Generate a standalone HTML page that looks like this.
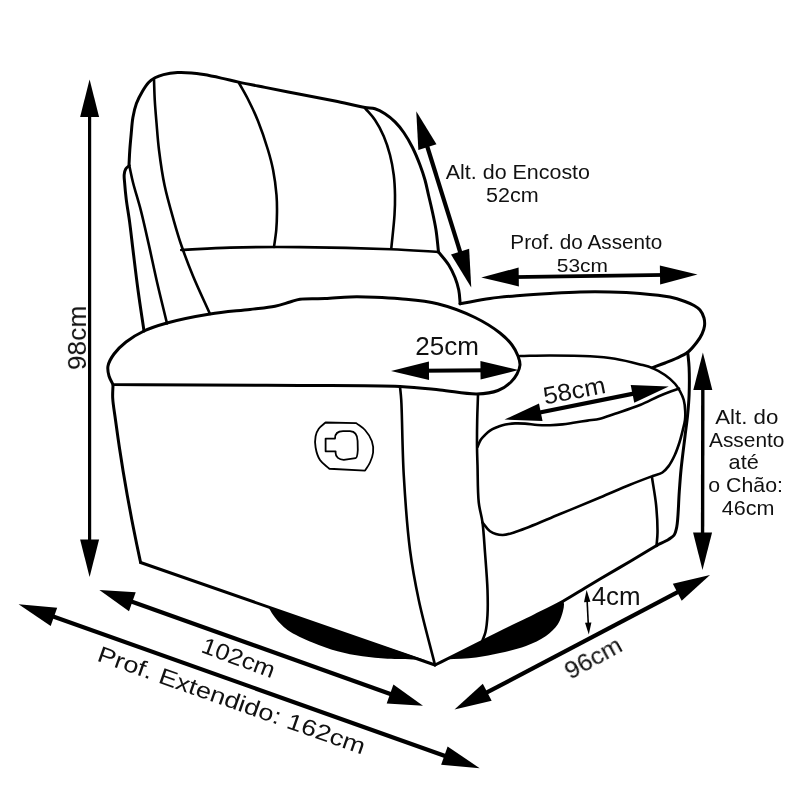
<!DOCTYPE html>
<html><head><meta charset="utf-8"><style>
html,body{margin:0;padding:0;background:#fff;width:800px;height:800px;overflow:hidden}
svg{display:block}
text{font-family:"Liberation Sans", sans-serif;fill:#111}
.tx{will-change:transform}
</style></head><body>
<svg width="800" height="800" viewBox="0 0 800 800">
<rect width="800" height="800" fill="#fff"/>
<g fill="none" stroke="#000" stroke-linecap="round" stroke-linejoin="round">
<path d="M129.00,165.00C129.27,160.00 129.45,155.00 129.80,150.00C130.15,145.00 130.61,140.19 131.10,135.00C131.63,129.39 131.94,122.98 132.90,117.50C133.77,112.54 134.77,107.93 136.40,103.50C137.99,99.19 140.32,94.92 142.50,91.25C144.42,88.01 146.33,84.83 148.60,82.50C150.56,80.49 152.62,79.09 155.00,77.80C157.55,76.42 160.26,75.44 163.50,74.60C167.54,73.55 172.82,72.78 177.50,72.50C182.15,72.22 187.00,72.52 191.50,72.90C195.73,73.25 199.32,73.85 203.75,74.60C209.08,75.50 215.43,76.84 221.25,78.10C227.09,79.36 232.32,80.76 238.75,82.15C246.60,83.84 255.62,85.55 265.00,87.40C275.83,89.53 288.33,91.93 300.00,94.20C311.67,96.47 323.79,98.72 335.00,101.00C345.40,103.12 357.66,106.12 365.00,107.40C369.21,108.13 371.75,107.75 375.00,108.75C378.42,109.80 381.78,111.67 385.00,113.75C388.46,115.99 391.92,118.84 395.00,121.90C398.18,125.06 400.98,128.54 403.75,132.50C406.86,136.96 409.84,142.22 412.50,147.50C415.28,153.03 417.85,159.35 420.00,165.00C421.96,170.15 423.58,174.97 425.00,180.00C426.40,184.97 427.33,190.00 428.50,195.00C429.67,200.00 430.84,204.63 432.00,210.00C433.34,216.18 434.93,223.15 436.00,230.00C437.12,237.14 437.67,244.67 438.50,252.00" stroke-width="3.0"/>
<path d="M438.50,252.00C441.92,256.33 445.93,260.56 448.75,265.00C451.34,269.08 453.32,273.26 455.00,277.50C456.63,281.60 457.88,285.69 458.75,290.00C459.64,294.43 459.72,299.17 460.20,303.75" stroke-width="3.0"/>
<path d="M460.00,303.75C470.00,302.00 479.97,299.88 490.00,298.50C499.97,297.13 509.99,296.35 520.00,295.50C529.99,294.65 540.00,294.00 550.00,293.40C560.00,292.80 570.00,292.15 580.00,291.90C590.00,291.65 600.00,291.65 610.00,291.90C620.00,292.15 630.01,292.55 640.00,293.40C650.01,294.25 661.78,295.29 670.00,297.00C675.92,298.23 680.68,299.90 685.00,301.50C688.43,302.77 691.38,303.96 694.00,305.50C696.29,306.84 698.37,308.05 700.00,310.00C701.78,312.13 703.26,315.26 704.00,318.00C704.70,320.60 704.82,323.36 704.50,326.00C704.17,328.70 703.19,331.41 702.00,334.00C700.74,336.75 699.05,339.28 697.00,342.00C694.55,345.25 691.48,349.26 688.00,352.00C684.49,354.76 679.96,356.62 676.00,358.50C672.30,360.25 668.83,361.51 665.00,363.00C660.86,364.61 656.33,366.20 652.00,367.80" stroke-width="3.0"/>
<path d="M154.00,79.50C154.25,86.33 154.35,92.99 154.75,100.00C155.17,107.39 155.83,114.83 156.50,122.75C157.23,131.43 157.80,140.33 159.00,150.00C160.38,161.10 162.12,173.79 164.60,185.60C167.11,197.56 170.97,210.64 174.00,221.30C176.48,230.03 178.38,236.62 181.25,245.00C184.57,254.69 188.55,265.21 193.00,276.00C197.99,288.09 204.33,301.33 210.00,314.00" stroke-width="2.6"/>
<path d="M238.75,82.50C241.67,87.75 244.56,92.46 247.50,98.25C250.97,105.08 254.73,112.87 258.00,121.00C261.62,130.00 265.36,141.18 268.00,150.00C270.17,157.24 271.72,162.92 273.10,170.00C274.63,177.83 275.88,187.45 276.50,195.00C277.01,201.20 277.04,206.25 277.00,212.00C276.96,217.91 276.76,224.10 276.25,230.00C275.75,235.76 274.75,241.33 274.00,247.00" stroke-width="2.6"/>
<path d="M365.00,108.10C368.33,112.07 371.98,115.55 375.00,120.00C378.29,124.85 381.28,130.53 383.75,136.25C386.31,142.17 388.34,148.59 390.00,155.00C391.69,161.50 392.92,168.31 393.75,175.00C394.58,181.64 394.88,188.33 395.00,195.00C395.12,201.66 394.96,207.48 394.50,215.00C393.91,224.80 392.33,237.50 391.25,248.75" stroke-width="2.6"/>
<path d="M181.25,250.00C197.50,249.20 212.28,248.10 230.00,247.60C251.22,247.00 275.14,246.89 300.00,247.10C328.35,247.34 365.56,248.27 391.00,249.30C409.39,250.04 422.67,251.10 438.50,252.00" stroke-width="2.6"/>
<path d="M129.30,165.60C128.10,166.73 126.55,167.58 125.70,169.00C124.79,170.53 124.42,172.55 124.20,174.60C123.95,176.99 124.37,179.38 124.60,182.50C124.94,187.08 125.51,193.37 126.25,199.40C127.11,206.37 128.53,213.98 129.60,221.90C130.79,230.74 131.75,239.81 133.00,250.00C134.50,262.16 136.18,276.59 138.00,290.00C139.84,303.59 142.00,317.33 144.00,331.00" stroke-width="3.0"/>
<path d="M129.60,167.00C130.73,172.17 131.52,176.60 133.00,182.50C135.00,190.51 138.38,200.77 140.90,210.60C143.65,221.32 146.14,232.83 148.75,244.40C151.50,256.59 154.05,269.18 157.00,282.00C160.11,295.48 163.67,309.60 167.00,323.40" stroke-width="2.6"/>
<path d="M113.00,384.50C111.67,381.67 109.84,379.02 109.00,376.00C108.13,372.87 107.38,369.39 108.00,366.00C108.72,362.08 111.27,357.79 114.00,354.00C117.07,349.74 121.35,345.66 126.00,342.00C131.19,337.92 137.45,334.10 144.00,331.00C151.03,327.67 158.05,325.48 167.00,323.00C179.02,319.67 195.87,316.29 210.00,314.00C223.52,311.81 238.23,310.83 250.00,309.40C259.31,308.27 267.77,307.67 275.00,306.20C280.68,305.05 285.51,303.26 290.00,302.00C293.67,300.97 295.87,299.82 300.00,299.20C306.41,298.24 316.67,298.98 325.00,298.60C333.34,298.22 341.66,297.13 350.00,296.90C358.33,296.67 366.67,296.89 375.00,297.20C383.34,297.51 390.84,297.86 400.00,298.75C411.25,299.85 425.17,300.71 437.50,303.75C450.17,306.88 464.00,312.14 475.00,317.50C484.44,322.10 493.41,327.78 500.00,333.00C505.01,336.97 508.90,340.86 512.00,345.00C514.66,348.56 516.66,352.42 518.00,356.00C519.15,359.07 520.15,362.02 520.00,365.00C519.84,368.02 518.47,371.20 517.00,374.00C515.49,376.88 513.66,379.51 511.00,382.00C507.69,385.11 503.09,388.51 498.00,390.50C492.04,392.83 485.00,393.77 477.00,394.00C466.42,394.30 452.58,391.21 440.00,390.00C426.93,388.74 416.35,387.38 400.00,386.60C374.19,385.36 333.33,385.77 300.00,385.50C266.67,385.23 232.17,385.17 200.00,385.00C169.99,384.84 142.00,384.67 113.00,384.50" stroke-width="3.0"/>
<path d="M113.00,385.00C112.90,389.33 112.45,393.11 112.70,398.00C113.03,404.39 114.48,412.44 115.50,420.00C116.58,428.07 117.79,436.67 119.03,445.00C120.27,453.34 121.57,461.67 122.93,470.00C124.29,478.34 125.71,486.67 127.20,495.00C128.69,503.34 130.24,511.67 131.85,520.00C133.46,528.34 135.30,537.41 136.87,545.00C138.19,551.36 139.36,556.67 140.60,562.50" stroke-width="3.0"/>
<path d="M140.60,562.50L435.00,665.00" stroke-width="3.0"/>
<path d="M435.00,665.00C441.67,661.67 447.00,659.00 455.00,655.00C467.00,649.00 485.92,639.44 500.00,632.50C512.38,626.40 524.01,620.98 535.00,615.50C544.88,610.58 554.31,606.02 563.00,601.20C570.85,596.84 578.37,591.98 585.00,588.00C590.48,584.71 594.13,582.47 600.00,579.00C608.27,574.11 620.23,567.28 630.00,561.50C639.38,555.95 648.33,550.50 657.50,545.00" stroke-width="3.0"/>
<path d="M687.75,352.40C688.20,357.43 688.84,361.71 689.10,367.50C689.45,375.30 689.42,386.57 689.10,395.00C688.83,402.20 688.27,408.24 687.60,415.00C686.91,421.98 685.95,428.35 685.00,436.25C683.80,446.20 681.99,460.04 681.00,470.00C680.22,477.89 679.91,483.25 679.30,491.25C678.52,501.62 678.28,519.33 676.75,527.00C676.00,530.78 675.52,533.13 674.00,535.25C672.65,537.13 670.72,538.01 668.50,539.40C665.53,541.26 661.17,543.13 657.50,545.00" stroke-width="3.0"/>
<path d="M400.00,386.60C400.42,391.07 400.85,393.71 401.25,400.00C402.19,414.85 402.29,450.02 403.75,475.00C405.21,500.02 407.11,527.58 410.00,550.00C412.37,568.41 415.00,582.31 418.75,600.00C423.06,620.32 429.58,643.33 435.00,665.00" stroke-width="2.6"/>
<path d="M478.00,395.00C477.73,403.33 477.37,411.58 477.20,420.00C477.03,428.58 476.93,438.01 477.00,446.00C477.06,452.83 477.28,457.60 477.50,465.00C477.81,475.40 477.60,491.99 478.75,502.50C479.60,510.24 481.50,515.13 482.50,522.50C483.71,531.46 484.21,541.94 485.00,552.50C485.88,564.30 487.13,578.76 487.50,590.00C487.81,599.17 487.94,607.48 487.50,615.00C487.14,621.22 486.58,627.35 485.50,632.00C484.72,635.37 483.50,637.67 482.50,640.50" stroke-width="2.6"/>
<path d="M520.00,356.00C530.00,355.83 539.28,355.49 550.00,355.50C562.38,355.51 578.24,355.55 590.00,356.25C599.32,356.80 606.71,357.40 615.00,358.75C623.38,360.11 633.12,362.61 640.00,364.40C644.91,365.68 648.42,366.40 652.50,368.10C656.77,369.88 661.20,372.33 665.00,375.00C668.67,377.57 672.38,380.77 675.00,383.75C677.15,386.21 678.56,388.58 680.00,391.25C681.48,393.99 682.89,396.85 683.75,400.00C684.68,403.40 685.01,407.51 685.20,411.00C685.37,414.14 685.37,416.94 685.00,420.00C684.61,423.26 683.65,426.52 682.80,430.00C681.87,433.83 680.88,437.95 679.60,442.00C678.24,446.28 676.70,450.88 674.80,455.00C672.95,459.00 670.72,463.31 668.40,466.40C666.52,468.90 664.85,470.93 662.40,472.50C659.72,474.22 656.64,474.55 652.75,476.00C646.76,478.24 638.08,481.48 630.00,484.75C620.66,488.53 610.73,493.01 600.00,497.50C587.64,502.68 573.54,508.46 560.00,514.00C546.06,519.71 528.15,527.78 517.50,531.25C511.32,533.27 507.26,535.11 502.50,535.00C498.13,534.90 493.39,533.46 490.00,531.25C486.81,529.18 485.00,525.42 482.50,522.50" stroke-width="2.6"/>
<path d="M477.50,446.90C478.53,444.60 479.29,442.03 480.60,440.00C481.83,438.10 483.43,436.57 485.00,435.00C486.57,433.43 488.15,431.84 490.00,430.60C491.89,429.33 494.14,428.39 496.25,427.50C498.31,426.63 500.40,425.89 502.50,425.30C504.56,424.72 506.66,424.32 508.75,424.00C510.82,423.69 512.67,423.49 515.00,423.40C517.94,423.29 521.49,423.37 525.00,423.60C528.94,423.86 533.33,424.73 537.50,425.00C541.66,425.27 545.84,425.35 550.00,425.25C554.17,425.15 558.34,424.86 562.50,424.40C566.68,423.94 570.83,423.13 575.00,422.50C579.17,421.87 583.33,421.23 587.50,420.60C591.67,419.98 595.69,419.78 600.00,418.75C604.82,417.60 609.37,415.67 615.00,413.75C622.28,411.26 632.34,408.12 640.00,405.00C646.77,402.24 653.10,398.70 658.75,396.25C663.31,394.28 667.57,392.64 671.25,391.25C674.13,390.16 676.42,389.42 679.00,388.50" stroke-width="2.6"/>
<path d="M652.00,477.50C653.37,486.67 655.18,495.81 656.10,505.00C657.01,514.14 657.59,524.95 657.50,532.50C657.44,537.79 656.83,541.50 656.50,546.00" stroke-width="2.6"/>
<path d="M325.6,422.5L356.25,423.1C359.17,425.40 362.47,427.15 365.00,430.00C367.76,433.10 370.57,437.34 371.90,441.25C373.13,444.87 373.45,448.90 373.10,452.50C372.76,455.97 371.40,459.42 370.00,462.50C368.67,465.43 366.67,467.90 365.00,470.60L329.4,468.75C326.27,465.83 322.30,463.50 320.00,460.00C317.67,456.44 316.30,451.62 315.60,447.50C314.95,443.71 314.93,439.56 315.60,436.25C316.17,433.43 317.17,430.98 318.75,428.75C320.43,426.36 323.32,424.58 325.60,422.50Z" stroke-width="1.8"/>
<path d="M325.6,438.6L335,438.6C335,433 338,431.2 343,431.2L350,431.2C355,431.5 357.5,435 357.6,441L357.8,450C357.5,455 356.5,458 355.6,458.1L343.75,459.8C339,459.8 335.6,457 335.6,453L335.6,451.3L325.6,451.3Z" stroke-width="1.8"/>
</g>
<g fill="#000">
<path d="M268.75,608.00C270.83,611.17 272.36,614.26 275.00,617.50C278.30,621.55 282.24,626.21 287.50,630.00C294.11,634.76 304.05,638.93 312.50,642.50C320.72,645.98 329.09,648.95 337.50,651.25C345.76,653.51 354.14,655.00 362.50,656.25C370.80,657.49 378.96,658.21 387.50,658.75C396.44,659.32 408.10,659.23 415.00,659.50C419.16,659.66 421.67,659.83 425.00,660.00L268.75,608Z"/>
<path d="M446.00,659.50C456.00,658.83 466.59,658.69 476.00,657.50C484.48,656.43 491.88,654.85 500.00,653.00C508.53,651.06 518.04,649.03 526.00,646.00C533.25,643.24 540.44,640.01 546.00,636.00C550.84,632.51 555.13,628.41 558.00,624.00C560.60,620.00 562.03,614.63 563.00,611.00C563.66,608.50 563.99,606.33 564.00,604.50C564.01,603.15 563.67,602.17 563.50,601.00L535,615.5L500,632.5L446,659.5Z"/>
</g>
<line x1="89.60" y1="109.50" x2="89.60" y2="546.90" stroke="#000" stroke-width="3.2"/>
<path d="M89.60,576.90L80.10,539.40L99.10,539.40Z" fill="#000"/>
<path d="M89.60,79.50L80.10,117.00L99.10,117.00Z" fill="#000"/>
<line x1="425.19" y1="139.89" x2="462.31" y2="258.86" stroke="#000" stroke-width="4.2"/>
<path d="M471.25,287.50L451.01,254.53L469.15,248.87Z" fill="#000"/>
<path d="M416.25,111.25L418.35,149.88L436.49,144.22Z" fill="#000"/>
<line x1="511.25" y1="277.08" x2="667.50" y2="274.92" stroke="#000" stroke-width="3.8"/>
<path d="M697.50,274.50L660.13,284.42L659.87,265.62Z" fill="#000"/>
<path d="M481.25,277.50L518.88,286.38L518.62,267.58Z" fill="#000"/>
<line x1="421.40" y1="370.76" x2="488.10" y2="370.24" stroke="#000" stroke-width="3.8"/>
<path d="M518.50,370.00L480.57,379.50L480.43,361.10Z" fill="#000"/>
<path d="M391.00,371.00L429.07,379.90L428.93,361.50Z" fill="#000"/>
<line x1="533.52" y1="413.75" x2="639.73" y2="392.35" stroke="#000" stroke-width="4.2"/>
<path d="M668.75,386.50L634.26,402.63L630.70,384.99Z" fill="#000"/>
<path d="M504.50,419.60L542.55,421.11L538.99,403.47Z" fill="#000"/>
<line x1="702.84" y1="382.40" x2="702.56" y2="540.00" stroke="#000" stroke-width="3.4"/>
<path d="M702.50,570.00L693.07,532.48L712.07,532.52Z" fill="#000"/>
<path d="M702.90,352.40L693.33,389.88L712.33,389.92Z" fill="#000"/>
<line x1="587.07" y1="599.59" x2="588.33" y2="625.01" stroke="#000" stroke-width="1.6"/>
<path d="M588.80,634.60L585.01,622.77L591.40,622.46Z" fill="#000"/>
<path d="M586.60,590.00L584.00,602.14L590.39,601.83Z" fill="#000"/>
<line x1="480.69" y1="695.71" x2="683.81" y2="588.79" stroke="#000" stroke-width="4.2"/>
<path d="M710.00,575.00L681.68,600.64L672.83,583.83Z" fill="#000"/>
<path d="M454.50,709.50L491.67,700.67L482.82,683.86Z" fill="#000"/>
<line x1="125.76" y1="599.43" x2="396.64" y2="696.32" stroke="#000" stroke-width="4.2"/>
<path d="M423.00,705.75L386.68,703.38L393.41,684.55Z" fill="#000"/>
<path d="M99.40,590.00L128.99,611.20L135.72,592.37Z" fill="#000"/>
<line x1="46.87" y1="614.25" x2="451.43" y2="758.15" stroke="#000" stroke-width="4.2"/>
<path d="M479.70,768.20L441.12,764.77L447.62,746.49Z" fill="#000"/>
<path d="M18.60,604.20L50.68,625.91L57.18,607.63Z" fill="#000"/>
<g class="tx">
<text x="445.80" y="178.80" font-size="20.58" textLength="144.19" lengthAdjust="spacingAndGlyphs">Alt. do Encosto</text>
<text x="486.14" y="202.00" font-size="19.42" textLength="52.67" lengthAdjust="spacingAndGlyphs">52cm</text>
<text x="510.34" y="249.40" font-size="19.57" textLength="152.04" lengthAdjust="spacingAndGlyphs">Prof. do Assento</text>
<text x="556.76" y="272.00" font-size="18.99" textLength="51.21" lengthAdjust="spacingAndGlyphs">53cm</text>
<text x="415.20" y="354.80" font-size="24.89" textLength="63.70" lengthAdjust="spacingAndGlyphs">25cm</text>
<text x="715.20" y="423.85" font-size="19.71" textLength="63.20" lengthAdjust="spacingAndGlyphs">Alt. do</text>
<text x="709.00" y="446.70" font-size="19.42" textLength="75.40" lengthAdjust="spacingAndGlyphs">Assento</text>
<text x="728.63" y="469.35" font-size="19.42" textLength="30.14" lengthAdjust="spacingAndGlyphs">até</text>
<text x="708.35" y="492.20" font-size="19.42" textLength="74.62" lengthAdjust="spacingAndGlyphs">o Chão:</text>
<text x="721.87" y="515.25" font-size="19.42" textLength="52.64" lengthAdjust="spacingAndGlyphs">46cm</text>
<text x="591.73" y="605.40" font-size="24.89" textLength="48.86" lengthAdjust="spacingAndGlyphs">4cm</text>
<text x="86.00" y="370.06" font-size="25.18" textLength="64.28" lengthAdjust="spacingAndGlyphs" transform="rotate(-90.00 86.00 370.06)">98cm</text>
<text x="544.99" y="404.60" font-size="24.17" textLength="62.82" lengthAdjust="spacingAndGlyphs" transform="rotate(-11.03 544.99 404.60)">58cm</text>
<text x="570.30" y="679.81" font-size="24.46" textLength="61.45" lengthAdjust="spacingAndGlyphs" transform="rotate(-29.02 570.30 679.81)">96cm</text>
<text x="200.09" y="651.79" font-size="23.02" textLength="76.39" lengthAdjust="spacingAndGlyphs" transform="rotate(20.37 200.09 651.79)">102cm</text>
<text x="96.05" y="660.53" font-size="22.73" textLength="282.14" lengthAdjust="spacingAndGlyphs" transform="rotate(19.47 96.05 660.53)">Prof. Extendido: 162cm</text>
</g>
</svg>
</body></html>
